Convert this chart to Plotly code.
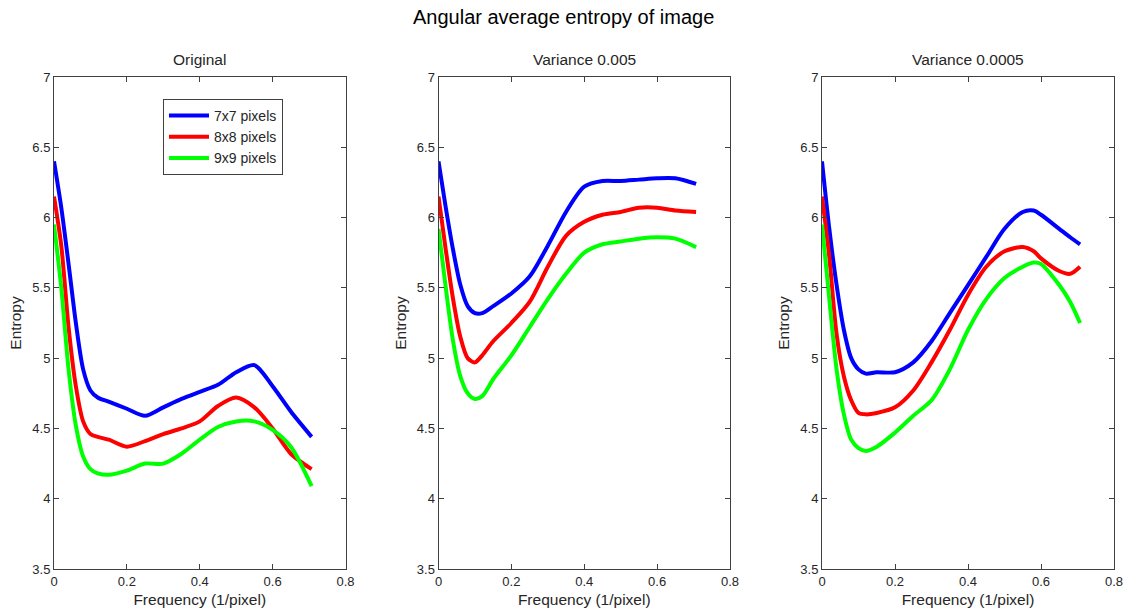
import plotly.graph_objects as go

x_orig = [0, 0.02, 0.04, 0.06, 0.08, 0.1, 0.12, 0.15, 0.2, 0.25, 0.3, 0.35, 0.4, 0.45, 0.5, 0.55, 0.6, 0.65, 0.707]
orig_7 = [6.40, 6.07, 5.67, 5.25, 4.92, 4.77, 4.72, 4.69, 4.64, 4.59, 4.65, 4.71, 4.76, 4.81, 4.90, 4.95, 4.80, 4.62, 4.44]
orig_8 = [6.15, 5.80, 5.22, 4.80, 4.55, 4.46, 4.44, 4.42, 4.37, 4.41, 4.46, 4.50, 4.55, 4.66, 4.72, 4.65, 4.50, 4.32, 4.21]
orig_9 = [5.95, 5.50, 4.92, 4.52, 4.30, 4.21, 4.18, 4.17, 4.20, 4.25, 4.25, 4.32, 4.42, 4.51, 4.55, 4.55, 4.49, 4.37, 4.09]

x_v005 = [0, 0.02, 0.04, 0.06, 0.08, 0.1, 0.12, 0.15, 0.2, 0.25, 0.3, 0.35, 0.4, 0.45, 0.5, 0.55, 0.6, 0.65, 0.707]
v005_7 = [6.40, 6.07, 5.77, 5.52, 5.37, 5.32, 5.32, 5.37, 5.46, 5.58, 5.80, 6.04, 6.22, 6.26, 6.26, 6.27, 6.28, 6.28, 6.24]
v005_8 = [6.15, 5.77, 5.42, 5.15, 5.00, 4.97, 5.02, 5.12, 5.25, 5.40, 5.65, 5.87, 5.97, 6.02, 6.04, 6.07, 6.07, 6.05, 6.04]
v005_9 = [5.92, 5.50, 5.12, 4.87, 4.75, 4.71, 4.73, 4.85, 5.02, 5.22, 5.42, 5.60, 5.75, 5.81, 5.83, 5.85, 5.86, 5.85, 5.79]

x_v0005 = [0, 0.02, 0.04, 0.06, 0.08, 0.1, 0.12, 0.15, 0.2, 0.25, 0.3, 0.35, 0.4, 0.45, 0.5, 0.55, 0.58, 0.6, 0.65, 0.68, 0.707]
v0005_7 = [6.40, 5.92, 5.52, 5.20, 5.00, 4.92, 4.89, 4.90, 4.90, 4.97, 5.12, 5.32, 5.52, 5.72, 5.92, 6.04, 6.05, 6.02, 5.92, 5.86, 5.81]
v0005_8 = [6.15, 5.72, 5.17, 4.87, 4.70, 4.61, 4.60, 4.61, 4.65, 4.77, 4.97, 5.20, 5.45, 5.65, 5.76, 5.79, 5.76, 5.71, 5.62, 5.60, 5.65]
v0005_9 = [5.95, 5.42, 4.92, 4.60, 4.42, 4.36, 4.34, 4.37, 4.47, 4.59, 4.70, 4.92, 5.20, 5.42, 5.57, 5.65, 5.68, 5.67, 5.52, 5.40, 5.25]

series_names = ["7x7 pixels", "8x8 pixels", "9x9 pixels"]
series_colors = ["#0000FF", "#FF0000", "#00FF00"]
panel_titles = ["Original", "Variance 0.005", "Variance 0.0005"]
main_title = "Angular average entropy of image"
x_title = "Frequency (1/pixel)"
y_title = "Entropy"
x_ticks = [0, 0.2, 0.4, 0.6, 0.8]
y_ticks = [3.5, 4, 4.5, 5, 5.5, 6, 6.5, 7]

panels = [
    (x_orig, [orig_7, orig_8, orig_9]),
    (x_v005, [v005_7, v005_8, v005_9]),
    (x_v0005, [v0005_7, v0005_8, v0005_9]),
]

W, H = 1127, 612
x_domains = [(54 / W, 345.5 / W), (438.5 / W, 730 / W), (822 / W, 1114 / W)]
y_domain = (1 - 569 / H, 1 - 77 / H)

fig = go.Figure()
FONT = "Liberation Sans, Arial, sans-serif"

for i, (xs, ys_list) in enumerate(panels):
    xa = "x" if i == 0 else f"x{i+1}"
    ya = "y" if i == 0 else f"y{i+1}"
    for j, ys in enumerate(ys_list):
        fig.add_trace(go.Scatter(
            x=xs, y=ys, mode="lines", name=series_names[j],
            line=dict(color=series_colors[j], width=4, shape="spline", smoothing=0.8),
            xaxis=xa, yaxis=ya, showlegend=(i == 0),
        ))

layout = dict(
    width=W, height=H,
    margin=dict(l=0, r=0, t=0, b=0, autoexpand=False),
    paper_bgcolor="white", plot_bgcolor="white",
    font=dict(family=FONT, size=12, color="#262626"),
    showlegend=True,
    legend=dict(x=163 / W, y=1 - 99 / H, xanchor="left", yanchor="top",
                bordercolor="#404040", borderwidth=1, bgcolor="white",
                font=dict(size=14, color="#262626"),
                tracegroupgap=0, itemwidth=40),
)

annotations = [dict(text=main_title, x=0.5, y=1 - 17 / H, xref="paper", yref="paper",
                    showarrow=False, font=dict(size=20, color="black"), xanchor="center", yanchor="middle")]

for i in range(3):
    key = "" if i == 0 else str(i + 1)
    anchor_y = "y" if i == 0 else f"y{i+1}"
    anchor_x = "x" if i == 0 else f"x{i+1}"
    axis_common = dict(showgrid=False, zeroline=False, showline=True, mirror="ticks",
                       ticks="inside", ticklen=5, tickwidth=1, linecolor="#404040",
                       tickcolor="#404040", linewidth=1, automargin=False,
                       tickfont=dict(size=13, color="#262626"))
    layout["xaxis" + key] = dict(domain=list(x_domains[i]), range=[0, 0.8], tickvals=x_ticks,
                                 ticktext=["0", "0.2", "0.4", "0.6", "0.8"],
                                 anchor=anchor_y,
                                 title=dict(text=x_title, font=dict(size=15.5, color="#262626"), standoff=6),
                                 **axis_common)
    layout["yaxis" + key] = dict(domain=list(y_domain), range=[3.5, 7], tickvals=y_ticks,
                                 ticktext=["3.5", "4", "4.5", "5", "5.5", "6", "6.5", "7"],
                                 anchor=anchor_x,
                                 title=dict(text=y_title, font=dict(size=15.5, color="#262626"), standoff=6),
                                 **axis_common)
    cx = (x_domains[i][0] + x_domains[i][1]) / 2
    annotations.append(dict(text=panel_titles[i], x=cx, y=1 - 60 / H, xref="paper", yref="paper",
                            showarrow=False, font=dict(size=15.5, color="#262626"),
                            xanchor="center", yanchor="middle"))

layout["annotations"] = annotations
fig.update_layout(**layout)
fig.write_html("out.html")
